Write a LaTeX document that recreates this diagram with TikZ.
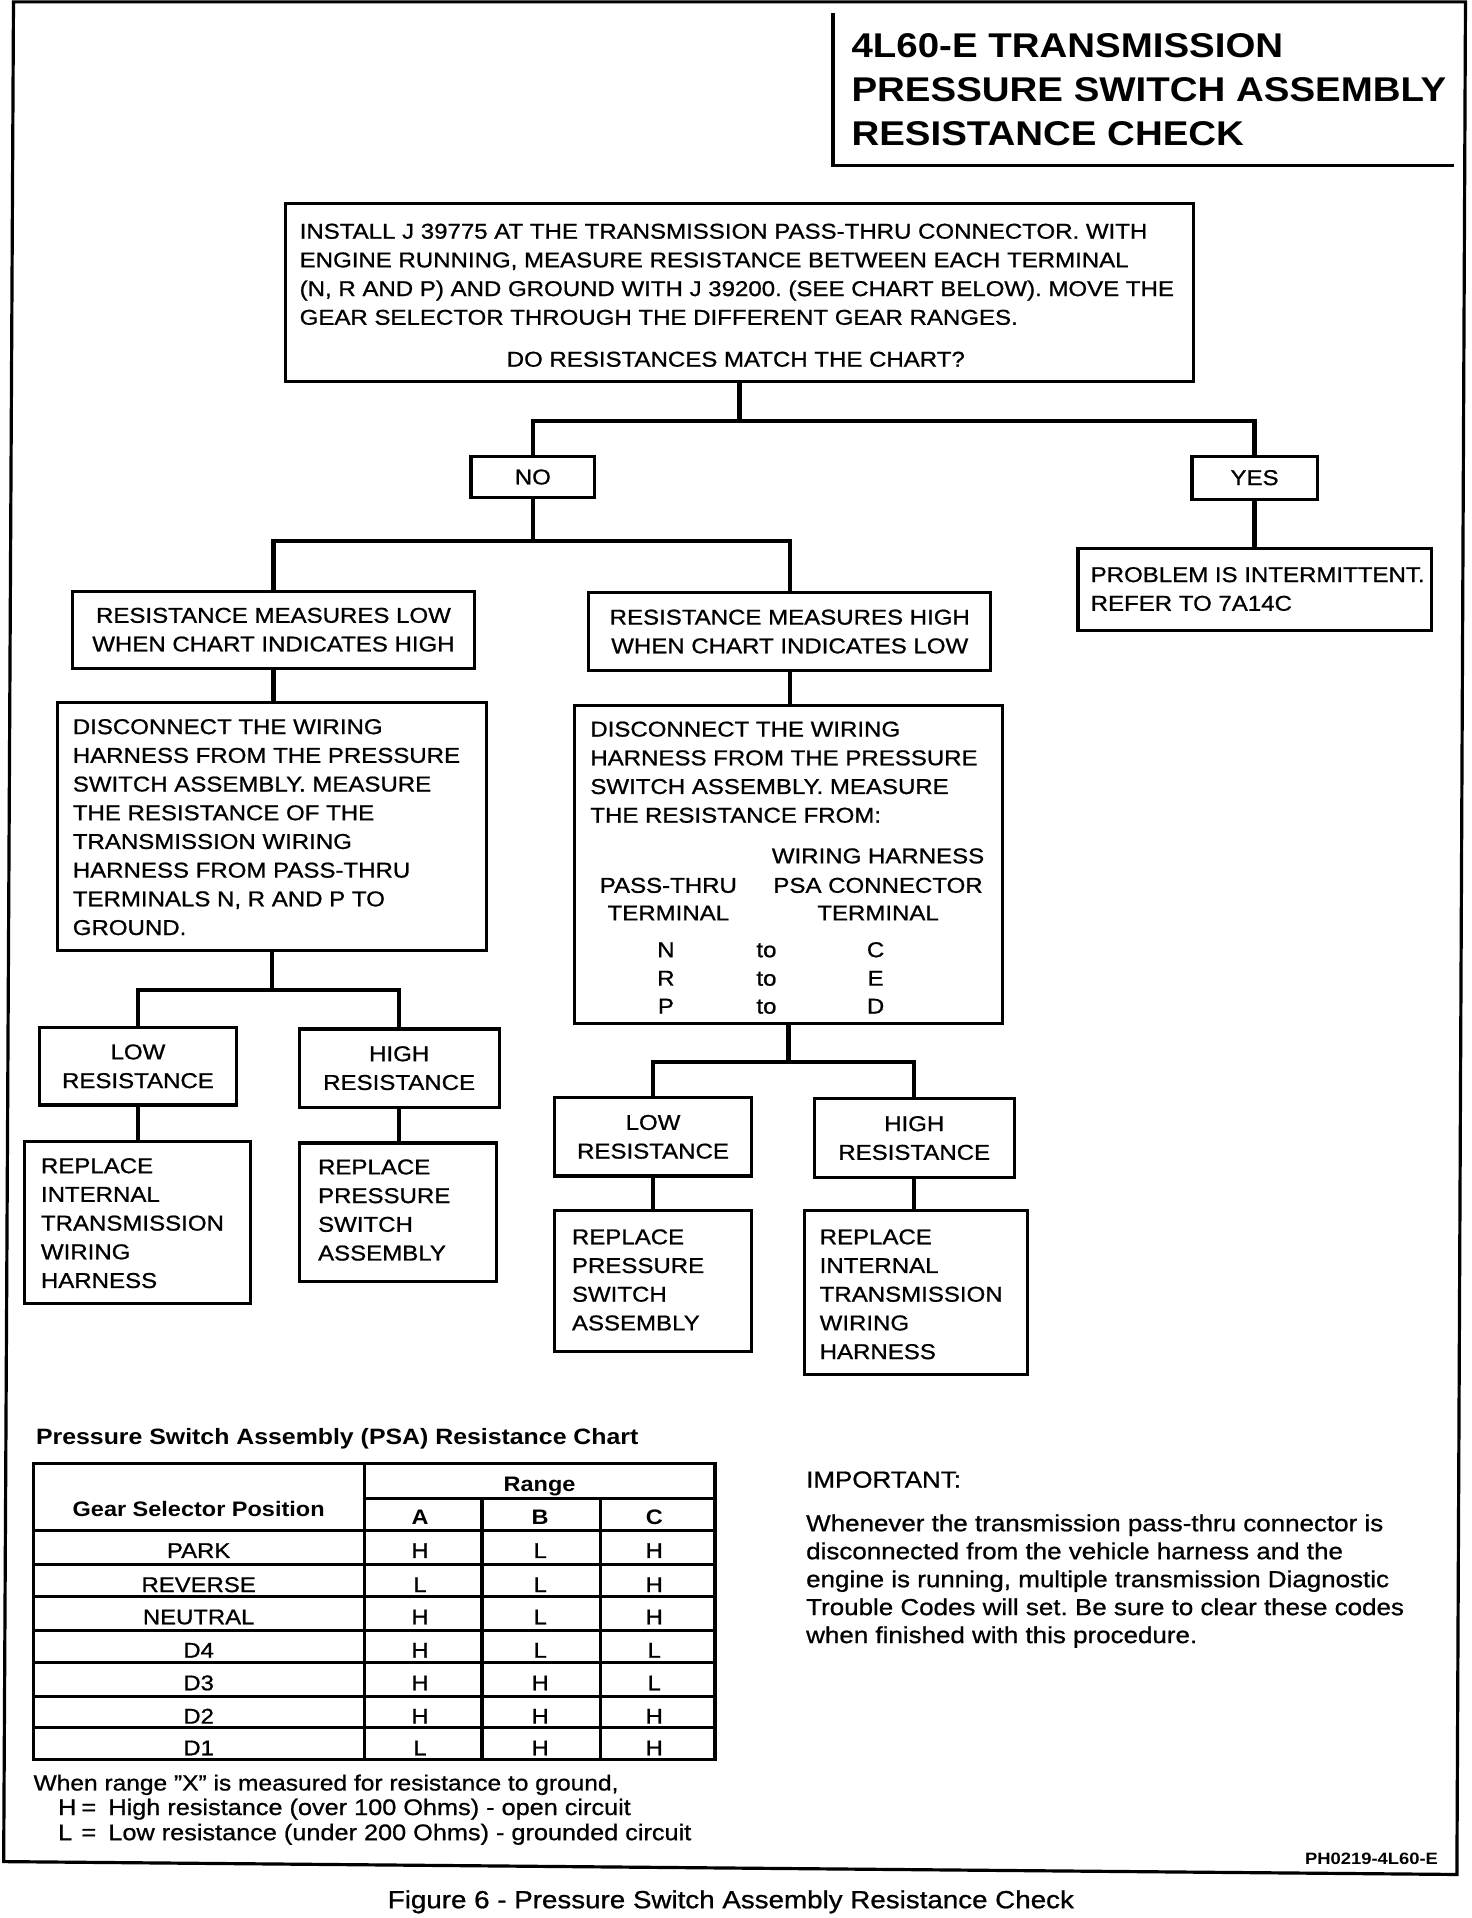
\documentclass[tikz,border=0pt]{standalone}
\usepackage{fontspec}
\setmainfont{Liberation Sans}[FakeStretch=1.12, UprightFeatures={FakeBold=0.9}]
\usetikzlibrary{calc}
\frenchspacing
\newcommand{\fFlow}{\fontsize{8.75}{11.7}\selectfont}
\newcommand{\fTab}{\fontsize{8.7}{10}\selectfont}
\newcommand{\fTabB}{\fontsize{8.55}{10}\selectfont\bfseries}
\newcommand{\fTabT}{\fontsize{9.05}{10}\selectfont\bfseries}
\newcommand{\fLeg}{\fontsize{8.93}{10}\selectfont}
\newcommand{\fLegB}{\fontsize{9.2}{10}\selectfont}
\newcommand{\fImp}{\fontsize{9.45}{11.4}\selectfont}
\newcommand{\fCap}{\fontsize{10.1}{12}\selectfont}
\newcommand{\fTitle}{\fontsize{14}{18}\selectfont\bfseries}
\newcommand{\fPH}{\fontsize{6.7}{8}\selectfont\bfseries}
\begin{document}
\begin{tikzpicture}[x=0.5pt,y=-0.5pt,
  box/.style={draw, line width=1.3pt, inner sep=0pt},
  ctext/.style={align=center, font=\fFlow},
  ltext/.style={inner sep=0pt, align=left, anchor=north west, font=\fFlow},
  btext/.style={inner sep=0pt, anchor=base, font=\fFlow},
  conn/.style={line width=1.7pt},
  tline/.style={line width=1.3pt},
  cell/.style={inner sep=0pt, anchor=base, font=\fTab},
  hcell/.style={inner sep=0pt, anchor=base, font=\fTabB},
  leg/.style={inner sep=0pt, anchor=base west, font=\fLeg},
  legb/.style={inner sep=0pt, anchor=base west, font=\fLegB},
  imp/.style={inner sep=0pt, anchor=base west, font=\fImp}]
\useasboundingbox (0,0) rectangle (1200,1564);

% outer frame
\draw[line width=1.3pt] (11,1.5) -- (1195,1.5) -- (1188,1528.5) -- (3,1518) -- cycle;

% title block
\draw[line width=1.5pt] (679,11) -- (679,135) -- (1186,135);
\node[inner sep=0pt, anchor=base west, font=\fTitle] (t1) at (694,46.5) {4L60-E TRANSMISSION};
\node[inner sep=0pt, anchor=base west, font=\fTitle] (t2) at (694,82.5) {PRESSURE SWITCH ASSEMBLY};
\node[inner sep=0pt, anchor=base west, font=\fTitle] (t3) at (694,118.5) {RESISTANCE CHECK};

% flowchart boxes
\node[box, minimum width=370pt, minimum height=72.5pt] (b1) at (603,238.5) {};
\node[ltext] (b1t) at (244,182) {INSTALL J 39775 AT THE TRANSMISSION PASS-THRU CONNECTOR. WITH\\ENGINE RUNNING, MEASURE RESISTANCE BETWEEN EACH TERMINAL\\(N, R AND P) AND GROUND WITH J 39200. (SEE CHART BELOW). MOVE THE\\GEAR SELECTOR THROUGH THE DIFFERENT GEAR RANGES.};
\node[btext] (b1q) at (600,299) {DO RESISTANCES MATCH THE CHART?};

\node[box, ctext, minimum width=50.5pt, minimum height=17pt] (no) at (434.5,389) {NO};
\node[box, ctext, minimum width=51pt, minimum height=17.5pt] (yes) at (1023,389.5) {YES};

\node[box, minimum width=144pt, minimum height=33.5pt] (prob) at (1023,480.5) {};
\node[ltext] (probt) at (889,462) {PROBLEM IS INTERMITTENT.\\REFER TO 7A14C};

\node[box, ctext, minimum width=164pt, minimum height=31.5pt] (l1) at (223,513.5) {RESISTANCE MEASURES LOW\\WHEN CHART INDICATES HIGH};
\node[box, ctext, minimum width=164pt, minimum height=32pt] (r1) at (644,515) {RESISTANCE MEASURES HIGH\\WHEN CHART INDICATES LOW};

\node[box, minimum width=175pt, minimum height=101pt] (l2) at (222,674) {};
\node[ltext] (l2t) at (59,586) {DISCONNECT THE WIRING\\HARNESS FROM THE PRESSURE\\SWITCH ASSEMBLY. MEASURE\\THE RESISTANCE OF THE\\TRANSMISSION WIRING\\HARNESS FROM PASS-THRU\\TERMINALS N, R AND P TO\\GROUND.};

\node[box, minimum width=174.5pt, minimum height=129.75pt] (r2) at (643,704.75) {};
\node[ltext] (r2t) at (481,588) {DISCONNECT THE WIRING\\HARNESS FROM THE PRESSURE\\SWITCH ASSEMBLY. MEASURE\\THE RESISTANCE FROM:};
\node[btext] (r2h1) at (716,704) {WIRING HARNESS};
\node[btext] (r2h2) at (545,728) {PASS-THRU};
\node[btext] (r2h3) at (716,728) {PSA CONNECTOR};
\node[btext] (r2h4) at (545,750.5) {TERMINAL};
\node[btext] (r2h5) at (716,750.5) {TERMINAL};
\foreach \p/\q/\yy [count=\i] in {N/C/780.5, R/E/803.7, P/D/826.5}{
  \node[btext] (r2p\i) at (543,\yy) {\p};
  \node[btext] (r2o\i) at (625,\yy) {to};
  \node[btext] (r2c\i) at (714,\yy) {\q};
}

\node[box, ctext, minimum width=80.5pt, minimum height=31.5pt] (ll) at (112.5,869.5) {LOW\\RESISTANCE};
\node[box, ctext, minimum width=81.5pt, minimum height=32pt] (lh) at (325.5,871) {HIGH\\RESISTANCE};
\node[box, minimum width=92pt, minimum height=66pt] (llr) at (112,997) {};
\node[ltext] (llrt) at (33,944) {REPLACE\\INTERNAL\\TRANSMISSION\\WIRING\\HARNESS};
\node[box, minimum width=80.5pt, minimum height=56.5pt] (lhr) at (324.5,988.5) {};
\node[ltext] (lhrt) at (259,945) {REPLACE\\PRESSURE\\SWITCH\\ASSEMBLY};

\node[box, ctext, minimum width=80.5pt, minimum height=32pt] (rl) at (532.5,927) {LOW\\RESISTANCE};
\node[box, ctext, minimum width=81.5pt, minimum height=32pt] (rh) at (745.5,928) {HIGH\\RESISTANCE};
\node[box, minimum width=80.5pt, minimum height=57.5pt] (rlr) at (532.5,1044.5) {};
\node[ltext] (rlrt) at (466,1002) {REPLACE\\PRESSURE\\SWITCH\\ASSEMBLY};
\node[box, minimum width=91pt, minimum height=67pt] (rhr) at (747,1054) {};
\node[ltext] (rhrt) at (668,1002) {REPLACE\\INTERNAL\\TRANSMISSION\\WIRING\\HARNESS};

% connectors
\coordinate (j1) at (604,343);
\coordinate (j2) at (434.5,441);
\coordinate (j3) at (222,807);
\coordinate (j4) at (643,866);
\draw[conn] (b1.south) -- (b1.south |- j1);
\draw[conn] (no.north) |- (j1) -| (yes.north);
\draw[conn] (no.south) -- (j2);
\draw[conn] (l1.north) |- (j2) -| (r1.north);
\draw[conn] (yes.south) -- (prob.north);
\draw[conn] (l1.south) -- (l1.south |- l2.north);
\draw[conn] (r1.south) -- (r1.south |- r2.north);
\draw[conn] (l2.south) -- (j3);
\draw[conn] (ll.north) |- (j3) -| (lh.north);
\draw[conn] (ll.south) -- (ll.south |- llr.north);
\draw[conn] (lh.south) -- (lh.south |- lhr.north);
\draw[conn] (r2.south) -- (j4);
\draw[conn] (rl.north) |- (j4) -| (rh.north);
\draw[conn] (rl.south) -- (rl.south |- rlr.north);
\draw[conn] (rh.south) -- (rh.south |- rhr.north);

% resistance chart
\node[inner sep=0pt, anchor=base west, font=\fTabT] (ctitle) at (29,1178) {Pressure Switch Assembly (PSA) Resistance Chart};
\draw[tline] (27,1193.5) rectangle (583,1435);
\draw[tline] (297,1193.5) -- (297,1435);
\draw[tline] (297,1222) -- (583,1222);
\draw[tline] (393,1222) -- (393,1435);
\draw[tline] (489.5,1222) -- (489.5,1435);
\foreach \yy in {1248,1275.8,1302.1,1329.3,1355.9,1383.1,1408.9}
  \draw[tline] (27,\yy) -- (583,\yy);
\node[hcell] (hgear) at (162,1236.5) {Gear Selector Position};
\node[hcell] (hrange) at (440,1216) {Range};
\node[hcell] (ha) at (342.5,1243) {A};
\node[hcell] (hb) at (440.5,1243) {B};
\node[hcell] (hc) at (533.5,1243) {C};
\foreach \g/\a/\b/\c/\yy [count=\i] in {PARK/H/L/H/1270.4, REVERSE/L/L/H/1298.2, NEUTRAL/H/L/H/1324.5, D4/H/L/L/1351.7, D3/H/H/L/1378.3, D2/H/H/H/1405.5, D1/L/H/H/1431.3}{
  \node[cell] (g\i) at (162,\yy) {\g};
  \node[cell] (a\i) at (342.5,\yy) {\a};
  \node[cell] (b\i) at (440.5,\yy) {\b};
  \node[cell] (c\i) at (533.5,\yy) {\c};
}

% legend
\node[leg] (lg1) at (27,1460) {When range ”X” is measured for resistance to ground,};
\node[legb] (lg2a) at (47,1480) {H};
\node[legb] (lg2b) at (66,1480) {=};
\node[legb] (lg2c) at (88,1480) {High resistance (over 100 Ohms) - open circuit};
\node[legb] (lg3a) at (47,1500.5) {L};
\node[legb] (lg3b) at (66,1500.5) {=};
\node[legb] (lg3c) at (88,1500.5) {Low resistance (under 200 Ohms) - grounded circuit};

% important note
\node[imp] (im0) at (657,1213) {IMPORTANT:};
\node[imp] (im1) at (657,1248.6) {Whenever the transmission pass-thru connector is};
\node[imp] (im2) at (657,1271.4) {disconnected from the vehicle harness and the};
\node[imp] (im3) at (657,1294.2) {engine is running, multiple transmission Diagnostic};
\node[imp] (im4) at (657,1317) {Trouble Codes will set. Be sure to clear these codes};
\node[imp] (im5) at (657,1339.8) {when finished with this procedure.};

% reference code and caption
\node[inner sep=0pt, anchor=base east, font=\fPH] (ph) at (1173,1520) {PH0219-4L60-E};
\node[inner sep=0pt, anchor=base, font=\fCap] (cap) at (596,1556) {Figure 6 - Pressure Switch Assembly Resistance Check};
\end{tikzpicture}
\end{document}
